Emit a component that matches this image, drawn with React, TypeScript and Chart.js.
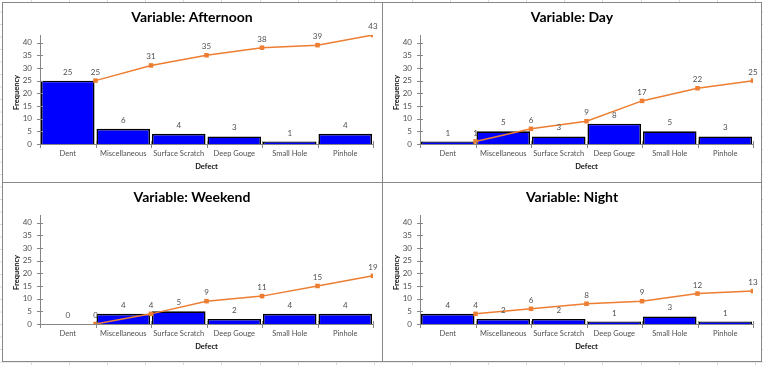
import React, { useEffect, useRef } from "react";
import { Chart, registerables } from "chart.js";

Chart.register(...registerables);

const categories = ["Dent", "Miscellaneous", "Surface Scratch", "Deep Gouge", "Small Hole", "Pinhole"];

const afternoonCounts = [25, 6, 4, 3, 1, 4];
const afternoonCumulative = [25, 31, 35, 38, 39, 43];
const dayCounts = [1, 5, 3, 8, 5, 3];
const dayCumulative = [1, 6, 9, 17, 22, 25];
const weekendCounts = [0, 4, 5, 2, 4, 4];
const weekendCumulative = [0, 4, 9, 11, 15, 19];
const nightCounts = [4, 2, 2, 1, 3, 1];
const nightCumulative = [4, 6, 8, 9, 12, 13];

const yTickValues = [0, 5, 10, 15, 20, 25, 30, 35, 40];
const yMax = 43;

const W = 378;
const H = 178;
const FONT = "Lato, 'Open Sans', sans-serif";
const AXIS_GRAY = "#868686";
const TEXT_GRAY = "#505050";

function Panel({ title, counts, cumulative }: { title: string; counts: number[]; cumulative: number[] }) {
  const ref = useRef<HTMLCanvasElement | null>(null);
  useEffect(() => {
    const canvas = ref.current;
    if (!canvas) return;
    const decor = {
      id: "decor",
      afterDatasetsDraw(chart: any) {
        const ctx = chart.ctx;
        const area = chart.chartArea;
        const ys = chart.scales.y;
        const xs2 = chart.scales.x2;
        ctx.save();
        ctx.strokeStyle = AXIS_GRAY;
        ctx.lineWidth = 1;
        ctx.beginPath();
        for (const v of yTickValues) {
          const y = Math.round(ys.getPixelForValue(v)) + 0.5;
          ctx.moveTo(area.left - 3, y);
          ctx.lineTo(area.left + 3, y);
        }
        for (let i = 0; i <= categories.length; i++) {
          const x = Math.round(xs2.getPixelForValue(i - 0.5)) + 0.5;
          ctx.moveTo(x, area.bottom - 3);
          ctx.lineTo(x, area.bottom + 4);
        }
        ctx.stroke();
        ctx.fillStyle = TEXT_GRAY;
        ctx.font = `8px ${FONT}`;
        ctx.textAlign = "center";
        ctx.textBaseline = "middle";
        chart.data.datasets.forEach((ds: any, di: number) => {
          const meta = chart.getDatasetMeta(di);
          meta.data.forEach((el: any, i: number) => {
            const raw = ds.data[i];
            const v = typeof raw === "number" ? raw : raw.y;
            ctx.fillText(String(v), el.x, el.y - 8.5);
          });
        });
        ctx.fillStyle = "#000";
        ctx.font = `bold 14px ${FONT}`;
        ctx.fillText(title, W / 2, 14);
        ctx.font = `bold 7.5px ${FONT}`;
        ctx.fillStyle = "#111";
        ctx.fillText("Defect", (area.left + area.right) / 2, 164);
        ctx.translate(14, 89.5);
        ctx.rotate(-Math.PI / 2);
        ctx.fillText("Frequency", 0, 0);
        ctx.restore();
      },
    };
    const chart = new Chart(canvas, {
      type: "bar",
      data: {
        labels: categories,
        datasets: [
          {
            type: "line",
            label: "Cumulative",
            xAxisID: "x2",
            yAxisID: "y",
            data: cumulative.map((c, i) => ({ x: i + 0.5, y: c })),
            borderColor: "#ED7D31",
            backgroundColor: "#ED7D31",
            borderWidth: 1.5,
            pointStyle: "rect",
            pointRadius: 3.2,
            pointBorderWidth: 0,
            pointBackgroundColor: "#ED7D31",
            tension: 0,
            order: 0,
          } as any,
          {
            type: "bar",
            label: "Frequency",
            xAxisID: "x",
            yAxisID: "y",
            data: counts,
            backgroundColor: "#0000FF",
            borderColor: "#000000",
            borderWidth: 1.6,
            barPercentage: 0.965,
            categoryPercentage: 1,
            grouped: false,
            order: 1,
          } as any,
        ],
      },
      options: {
        animation: false,
        responsive: false,
        devicePixelRatio: 1,
        events: [],
        layout: { padding: { top: 32, right: 8, left: 0, bottom: 0 } },
        plugins: { legend: { display: false }, tooltip: { enabled: false }, title: { display: false } },
        scales: {
          x: {
            type: "category",
            offset: true,
            grid: { display: false, drawTicks: false },
            border: { display: true, color: AXIS_GRAY, width: 1 },
            ticks: { font: { family: FONT, size: 7.5 }, color: TEXT_GRAY, padding: 5.5, maxRotation: 0, autoSkip: false },
            afterFit: (s: any) => {
              s.height = 37;
            },
          },
          x2: { type: "linear", min: -0.5, max: 5.5, offset: false, display: false, grid: { offset: false } },
          y: {
            min: 0,
            max: yMax,
            grid: { display: false, drawTicks: false },
            border: { display: true, color: AXIS_GRAY, width: 1 },
            ticks: { font: { family: FONT, size: 8 }, color: TEXT_GRAY, padding: 8 },
            afterBuildTicks: (s: any) => {
              s.ticks = yTickValues.map((v) => ({ value: v }));
            },
            afterFit: (s: any) => {
              s.width = 37;
            },
          },
        } as any,
      },
      plugins: [decor],
    });
    return () => chart.destroy();
  }, [title, counts, cumulative]);
  return <canvas ref={ref} width={W} height={H} style={{ display: "block", width: W, height: H }} />;
}

export default function App() {
  const gridBg =
    "repeating-linear-gradient(to right, transparent 0px, transparent 31px, #d9d9d9 31px, #d9d9d9 32px, transparent 32px, transparent 38.1px)";
  return (
    <div
      style={{
        position: "fixed",
        left: 0,
        top: 0,
        width: 763,
        height: 365,
        background: "#fff",
        overflow: "hidden",
      }}
    >
      <div style={{ position: "absolute", left: 0, top: 0, width: 763, height: 365, backgroundImage: gridBg }} />
      <div
        style={{
          position: "absolute",
          left: 0,
          top: 0,
          width: 763,
          height: 365,
          backgroundImage:
            "repeating-linear-gradient(to bottom, transparent 0px, transparent 12px, #d9d9d9 12px, #d9d9d9 13px, transparent 13px, transparent 12.5px)",
          backgroundSize: "763px 12.5px",
        }}
      />
      <div
        style={{
          position: "absolute",
          left: 2,
          top: 2,
          width: 760,
          height: 360,
          boxSizing: "border-box",
          border: "1px solid #888",
          background: "#fff",
        }}
      />
      <div style={{ position: "absolute", left: 382, top: 2, width: 1, height: 360, background: "#888" }} />
      <div style={{ position: "absolute", left: 2, top: 182, width: 760, height: 1, background: "#888" }} />
      <div style={{ position: "absolute", left: 3, top: 3 }}>
        <Panel title="Variable: Afternoon" counts={afternoonCounts} cumulative={afternoonCumulative} />
      </div>
      <div style={{ position: "absolute", left: 383, top: 3 }}>
        <Panel title="Variable: Day" counts={dayCounts} cumulative={dayCumulative} />
      </div>
      <div style={{ position: "absolute", left: 3, top: 183 }}>
        <Panel title="Variable: Weekend" counts={weekendCounts} cumulative={weekendCumulative} />
      </div>
      <div style={{ position: "absolute", left: 383, top: 183 }}>
        <Panel title="Variable: Night" counts={nightCounts} cumulative={nightCumulative} />
      </div>
    </div>
  );
}
